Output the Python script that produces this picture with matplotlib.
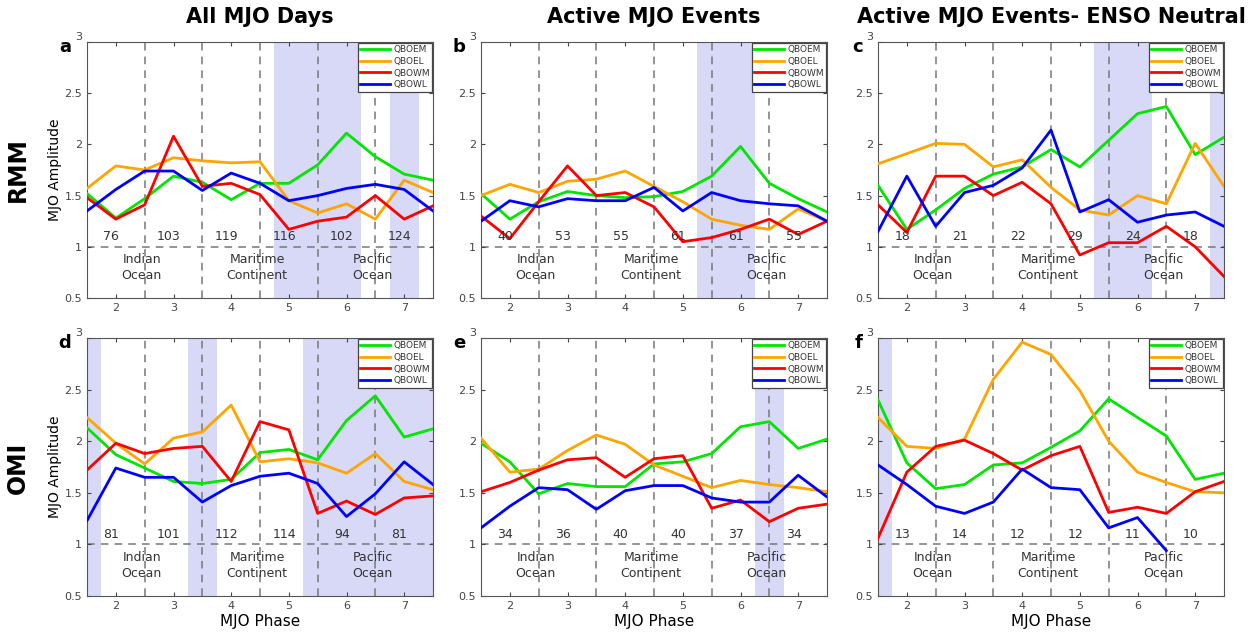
import matplotlib
matplotlib.use('Agg')
import matplotlib.pyplot as plt
import numpy as np

# phases sampled every half phase, 1.5 .. 7.5
phase = [1.5, 2, 2.5, 3, 3.5, 4, 4.5, 5, 5.5, 6, 6.5, 7, 7.5]
series_names = ['QBOEM', 'QBOEL', 'QBOWM', 'QBOWL']
col_titles = ['All MJO Days', 'Active MJO Events', 'Active MJO Events- ENSO Neutral']
row_titles = ['RMM', 'OMI']
panel_tags = ['a', 'b', 'c', 'd', 'e', 'f']

# RMM
a_qboem = [1.52, 1.28, 1.47, 1.69, 1.63, 1.46, 1.62, 1.62, 1.80, 2.11, 1.88, 1.71, 1.65]
a_qboel = [1.57, 1.79, 1.75, 1.87, 1.84, 1.82, 1.83, 1.45, 1.33, 1.42, 1.27, 1.65, 1.53]
a_qbowm = [1.48, 1.27, 1.41, 2.08, 1.59, 1.62, 1.51, 1.17, 1.25, 1.29, 1.50, 1.27, 1.40]
a_qbowl = [1.35, 1.56, 1.74, 1.74, 1.55, 1.72, 1.62, 1.45, 1.50, 1.57, 1.61, 1.56, 1.35]

b_qboem = [1.52, 1.27, 1.44, 1.54, 1.50, 1.48, 1.49, 1.54, 1.69, 1.98, 1.62, 1.47, 1.34]
b_qboel = [1.50, 1.61, 1.53, 1.64, 1.66, 1.74, 1.59, 1.44, 1.27, 1.21, 1.17, 1.37, 1.25]
b_qbowm = [1.30, 1.08, 1.44, 1.79, 1.50, 1.53, 1.39, 1.05, 1.09, 1.17, 1.27, 1.12, 1.25]
b_qbowl = [1.25, 1.45, 1.39, 1.47, 1.45, 1.45, 1.58, 1.35, 1.53, 1.45, 1.42, 1.40, 1.25]

c_qboem = [1.60, 1.17, 1.36, 1.57, 1.71, 1.78, 1.95, 1.78, 2.04, 2.30, 2.37, 1.90, 2.07]
c_qboel = [1.81, 1.91, 2.01, 2.00, 1.78, 1.85, 1.58, 1.36, 1.31, 1.50, 1.42, 2.01, 1.59]
c_qbowm = [1.41, 1.14, 1.69, 1.69, 1.50, 1.63, 1.42, 0.92, 1.04, 1.04, 1.20, 1.00, 0.71]
c_qbowl = [1.15, 1.69, 1.20, 1.53, 1.60, 1.77, 2.14, 1.34, 1.46, 1.24, 1.31, 1.34, 1.20]

# OMI
d_qboem = [2.13, 1.87, 1.74, 1.61, 1.59, 1.63, 1.89, 1.92, 1.82, 2.20, 2.44, 2.04, 2.12]
d_qboel = [2.23, 1.98, 1.78, 2.03, 2.09, 2.35, 1.80, 1.83, 1.79, 1.69, 1.88, 1.61, 1.53]
d_qbowm = [1.72, 1.98, 1.88, 1.93, 1.95, 1.61, 2.19, 2.11, 1.30, 1.42, 1.29, 1.45, 1.47]
d_qbowl = [1.23, 1.74, 1.65, 1.65, 1.41, 1.57, 1.66, 1.69, 1.59, 1.27, 1.49, 1.80, 1.58]

e_qboem = [1.98, 1.80, 1.49, 1.59, 1.56, 1.56, 1.78, 1.80, 1.88, 2.14, 2.19, 1.93, 2.02]
e_qboel = [2.03, 1.70, 1.73, 1.91, 2.06, 1.97, 1.77, 1.66, 1.55, 1.62, 1.58, 1.55, 1.51]
e_qbowm = [1.51, 1.60, 1.72, 1.82, 1.84, 1.65, 1.83, 1.86, 1.35, 1.43, 1.22, 1.35, 1.39]
e_qbowl = [1.16, 1.37, 1.55, 1.53, 1.34, 1.52, 1.57, 1.57, 1.45, 1.41, 1.41, 1.67, 1.46]

f_qboem = [2.40, 1.79, 1.54, 1.58, 1.77, 1.79, 1.94, 2.10, 2.41, 2.23, 2.05, 1.63, 1.69]
f_qboel = [2.23, 1.95, 1.93, 2.02, 2.60, 2.96, 2.84, 2.49, 2.00, 1.70, 1.60, 1.51, 1.50]
f_qbowm = [1.06, 1.70, 1.95, 2.01, 1.88, 1.72, 1.86, 1.95, 1.31, 1.36, 1.30, 1.51, 1.61]
f_qbowl = [1.77, 1.58, 1.37, 1.30, 1.41, 1.73, 1.55, 1.53, 1.16, 1.26, 0.94, np.nan, np.nan]

# number of days / events in each phase
a_counts = [76, 103, 119, 116, 102, 124]
b_counts = [40, 53, 55, 61, 61, 55]
c_counts = [18, 21, 22, 29, 24, 18]
d_counts = [81, 101, 112, 114, 94, 81]
e_counts = [34, 36, 40, 40, 37, 34]
f_counts = [13, 14, 12, 12, 11, 10]

# shaded (significant) phase ranges
a_shade = [(4.75, 6.25), (6.75, 7.25)]
b_shade = [(5.25, 6.25)]
c_shade = [(5.25, 6.25), (7.25, 7.5)]
d_shade = [(1.5, 1.75), (3.25, 3.75), (5.25, 7.5)]
e_shade = [(6.25, 6.75)]
f_shade = [(1.5, 1.75)]

regions = ['Indian\nOcean', 'Maritime\nContinent', 'Pacific\nOcean']
region_x = [2.45, 4.45, 6.45]

colors = ['#00e600', '#ffa500', '#ff0000', '#0000ff']
shade_col = '#d7d9f7'
grey = '#777777'

panels = [
  ([a_qboem, a_qboel, a_qbowm, a_qbowl], a_counts, a_shade),
  ([b_qboem, b_qboel, b_qbowm, b_qbowl], b_counts, b_shade),
  ([c_qboem, c_qboel, c_qbowm, c_qbowl], c_counts, c_shade),
  ([d_qboem, d_qboel, d_qbowm, d_qbowl], d_counts, d_shade),
  ([e_qboem, e_qboel, e_qbowm, e_qbowl], e_counts, e_shade),
  ([f_qboem, f_qboel, f_qbowm, f_qbowl], f_counts, f_shade),
]


def main():
  fig = plt.figure(figsize=(12.6, 6.35), dpi=100)
  lefts = [87, 481, 878]
  width = 346
  bottoms = [1 - 298/635, 1 - 596/635]
  heights = [256/635, 258/635]

  for i, (series, counts, shade) in enumerate(panels):
    r, c = divmod(i, 3)
    ax = fig.add_axes([lefts[c]/1260, bottoms[r], width/1260, heights[r]])
    for s0, s1 in shade:
      ax.axvspan(s0, s1, color=shade_col, lw=0, zorder=0)
    for xv in [2.5, 3.5, 4.5, 5.5, 6.5]:
      ax.axvline(xv, color=grey, ls=(0, (5, 4)), lw=1.1, zorder=1)
    ax.axhline(1, color=grey, ls=(0, (5, 4)), lw=1.1, zorder=1)
    for vals, name, col in zip(series, series_names, colors):
      ax.plot(phase, vals, color=col, lw=2, label=name, zorder=3)
    for k, n in enumerate(counts):
      ax.text(k + 2 - 0.08, 1.1, str(n), ha='center', va='center', fontsize=9, color='#333333')
    for rx, rt in zip(region_x, regions):
      ax.text(rx, 0.8, rt, ha='center', va='center', fontsize=9, color='#333333', linespacing=1.3)

    ax.set_xlim(1.5, 7.5)
    ax.set_ylim(0.5, 3)
    ax.set_xticks([2, 3, 4, 5, 6, 7])
    ax.set_yticks([0.5, 1, 1.5, 2, 2.5, 3])
    ax.set_yticklabels(['0.5', '1', '1.5', '2', '2.5', '3'])
    ax.tick_params(direction='in', length=3, labelsize=8, colors='#444444',
                   top=True, right=True)
    for sp in ax.spines.values():
      sp.set_color('#555555')
      sp.set_linewidth(0.8)
    ax.yaxis.get_majorticklabels()[-1].set_va('bottom')

    leg = ax.legend(loc='upper right', fontsize=6.5, handlelength=3.3, borderpad=0.25,
                    labelspacing=0.3, handletextpad=0.35, framealpha=1, fancybox=False,
                    borderaxespad=0.1)
    leg.get_frame().set_edgecolor('#444444')
    leg.get_frame().set_linewidth(0.9)
    for t in leg.get_texts():
      t.set_color('#333333')

    ax.text(-0.045, 0.98, panel_tags[i], transform=ax.transAxes, fontsize=13,
            fontweight='bold', ha='right', va='center')
    if c == 0:
      ax.set_ylabel('MJO Amplitude', fontsize=10, labelpad=2)
    if r == 1:
      ax.set_xlabel('MJO Phase', fontsize=11, labelpad=2)
    if r == 0:
      ax.set_title(col_titles[c], fontsize=15, fontweight='bold', pad=14)

  fig.text(18/1260, 1 - 170/635, row_titles[0], rotation=90, fontsize=17,
           fontweight='bold', ha='center', va='center')
  fig.text(18/1260, 1 - 468/635, row_titles[1], rotation=90, fontsize=17,
           fontweight='bold', ha='center', va='center')

  fig.savefig('out.png', dpi=100)


main()
